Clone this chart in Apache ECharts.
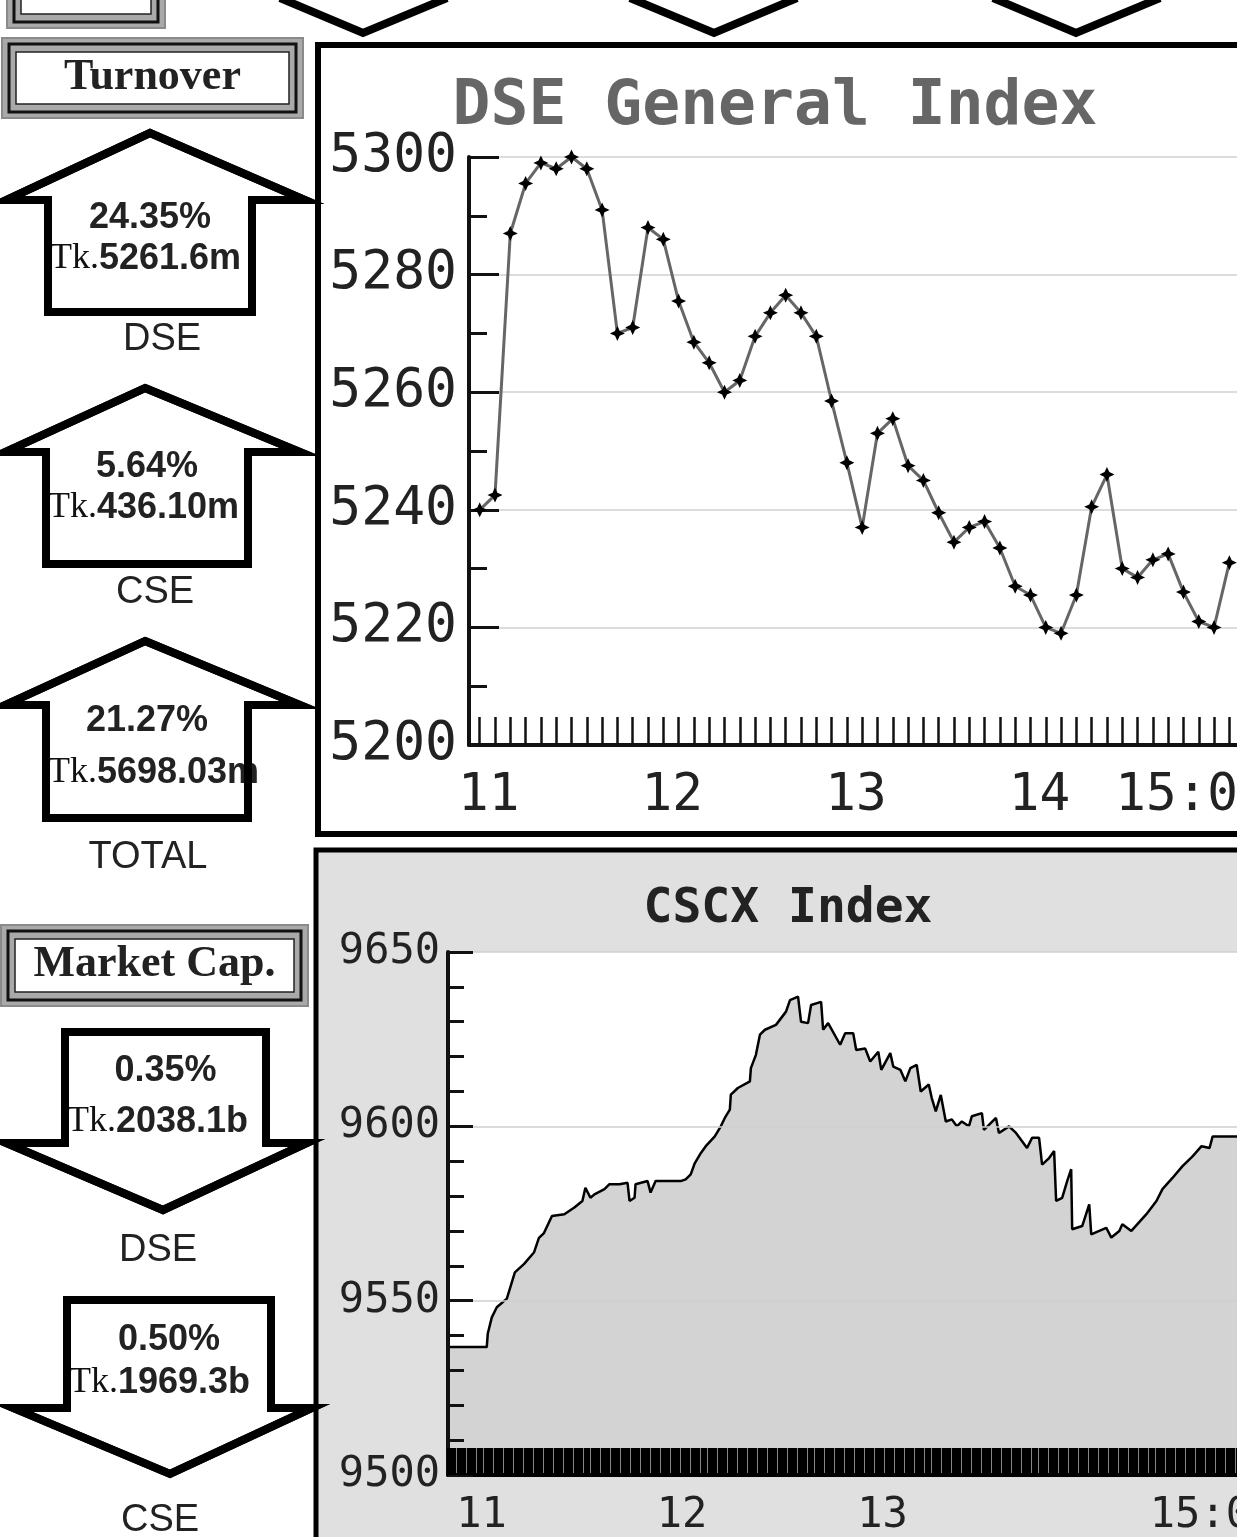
<!DOCTYPE html>
<html>
<head>
<meta charset="utf-8">
<script src="https://cdn.jsdelivr.net/npm/echarts@6/dist/echarts.min.js"></script>
<style>
html,body{margin:0;padding:0;background:#fff;}
#main{width:1237px;height:1537px;}
</style>
</head>
<body>
<div id="main"></div>
<script>
var chart = echarts.init(document.getElementById('main'));

// DSE General Index, minutes after 11:00
var dseMinutes = [0,5,10,15,20,25,30,35,40,45,50,55,60,65,70,75,80,85,90,95,100,105,110,115,120,125,130,135,140,145,150,155,160,165,170,175,180,185,190,195,200,205,210,215,220,225,230,235,240,245];
var dseValues  = [5240,5242.5,5287,5295.5,5299,5298,5300,5298,5291,5270,5271,5288,5286,5275.5,5268.5,5265,5260,5262,5269.5,5273.5,5276.5,5273.5,5269.5,5258.5,5248,5237,5253,5255.5,5247.5,5245,5239.5,5234.5,5237,5238,5233.5,5227,5225.5,5220,5219,5225.5,5240.5,5246,5230,5228.5,5231.5,5232.5,5226,5221,5220,5231];
var dseLabelValues = [0,60,120,180,247.5];
var dseLabels = ['11','12','13','14','15:00'];

// CSCX Index, minutes after 11:00
var cscxMinutes = [-10,1.6,1.9,3.1,4.6,7.6,10,12.7,15.7,17.2,18.7,21.1,24.8,27.8,30.2,31.1,32.6,33.8,36.8,38.3,41.3,43.7,44.3,45.8,46.1,49.7,50.6,52.1,55.7,59.6,61.1,62.6,63.8,65.6,67.1,69.8,71.6,72.8,74.3,74.6,76.7,80.3,80.6,82.1,83.3,84.8,88.1,91.1,92.3,94.7,95.6,97.7,98.6,101.6,102.2,103.7,107.3,108.8,111.2,112.1,114.8,116.3,118.7,119.6,122.3,123.2,125.3,126.8,128.3,130.2,131.4,133.8,134.7,135.9,137.4,138.9,140.7,142.2,143.7,145.8,146.7,149.7,150.3,153.9,154.8,157.8,159.9,163.2,164.7,166.8,167.7,169.8,171.3,171.9,173.7,175.2,176.4,176.7,179.7,181.8,182.4,184.8,186.9,188.4,190.8,191.7,194.4,198.9,201.9,203.7,206.7,209.7,212.7,215.4,217.8,218.7,226];
var cscxValues  = [9536.7,9536.7,9540.6,9545.2,9548.1,9550.6,9558.1,9560.5,9563.8,9568,9569.4,9574.3,9574.8,9576.7,9578.6,9582.4,9579.5,9580.5,9582,9583.4,9583.4,9583.8,9578.6,9579.5,9583.4,9584.3,9581,9584.3,9584.3,9584.3,9584.8,9586.2,9589.4,9592.3,9594.3,9597.1,9600,9602.4,9604.8,9609.1,9611,9612.9,9616.7,9620.5,9626.3,9627.7,9629.1,9632.9,9636.2,9637.2,9630,9629.6,9634.8,9635.7,9627.7,9629.6,9623.4,9626.7,9626.7,9621.9,9622.3,9618.6,9621.4,9616.2,9621,9617.1,9616.2,9612.9,9616.7,9617.6,9610,9612,9608.1,9604.3,9609,9601.4,9602,9600,9601.4,9600,9602.9,9603.8,9599,9602.4,9598.1,9600,9598.1,9593.8,9596.7,9596.7,9589,9590.9,9592.9,9578.6,9579.5,9584.3,9587.7,9570.5,9571.4,9577.6,9569,9570,9570.9,9568.1,9570,9571.9,9570,9574.8,9578.6,9582,9585.2,9588.6,9591.4,9594.3,9593.8,9597.1,9597.1];
var cscxLabelValues = [0,60,120,226];
var cscxLabels = ['11','12','13','15:00'];

// left panel figures
var turnoverPct  = ['24.35%','5.64%','21.27%'];
var turnoverTk   = ['5261.6m','436.10m','5698.03m'];
var turnoverName = ['DSE','CSE','TOTAL'];
var mcapPct  = ['0.35%','0.50%'];
var mcapTk   = ['2038.1b','1969.3b'];
var mcapName = ['DSE','CSE'];

var dseTicks = [];
for (var t = 0; t <= 245; t += 5) dseTicks.push(t);

function zip(a, b) {
    var out = [];
    for (var i = 0; i < a.length; i++) out.push([a[i], b[i]]);
    return out;
}

var mono = 'DejaVu Sans Mono';
var els = [];

function txt(x, y, s, font, align, rich) {
    var st = {text: s, font: font, fill: '#222', textAlign: align || 'center', textVerticalAlign: 'middle',
              align: align || 'center', verticalAlign: 'middle'};
    if (rich) st.rich = rich;
    els.push({type: 'text', x: x, y: y, z: 20, style: st});
}

function box(x, y, w, h, label, labelY) {
    els.push({type: 'rect', z: 10, shape: {x: x, y: y, width: w, height: h}, style: {fill: '#a9a9a9', stroke: '#8a8a8a', lineWidth: 2}});
    els.push({type: 'rect', z: 11, shape: {x: x + 7, y: y + 6, width: w - 14, height: h - 12}, style: {fill: null, stroke: '#111', lineWidth: 3}});
    els.push({type: 'rect', z: 12, shape: {x: x + 14, y: y + 14, width: w - 28, height: h - 28}, style: {fill: '#fff', stroke: '#222', lineWidth: 1.5}});
    if (label) txt(x + w / 2, labelY, label, 'bold 44px "Liberation Serif"');
}

var tkRich = {
    a: {fontFamily: 'Liberation Serif', fontSize: 36, fontWeight: 'normal', fill: '#111'},
    b: {fontFamily: 'Liberation Sans', fontSize: 36, fontWeight: 'bold', fill: '#222'}
};

function arrow(points, pct, tk, name, L) {
    els.push({type: 'polygon', z: 15, shape: {points: points}, style: {fill: '#fff', stroke: '#000', lineWidth: 8, lineJoin: 'miter'}});
    txt((L.sl + L.sr) / 2, L.pctY, pct, 'bold 36px "Liberation Sans"');
    txt(L.sl + 2, L.tkY, '{a|Tk.}{b|' + tk + '}', '36px "Liberation Sans"', 'left', tkRich);
    els.push({type: 'polygon', z: 25, shape: {points: points}, style: {fill: null, stroke: '#000', lineWidth: 8, lineJoin: 'miter'}});
    txt(L.nameX, L.nameY, name, '38px "Liberation Sans"');
}

// chart frames
els.push({type: 'rect', z: -10, shape: {x: 318, y: 45, width: 940, height: 789}, style: {fill: '#fff', stroke: '#000', lineWidth: 6}});
els.push({type: 'rect', z: -10, shape: {x: 316, y: 850, width: 940, height: 720}, style: {fill: '#e0e0e0', stroke: '#000', lineWidth: 5}});

// top strip (cut-off row above)
box(7, -50, 158, 78);
[[280, 363, 447], [630, 714, 797], [993, 1076, 1160]].forEach(function (v) {
    els.push({type: 'polyline', z: 10, shape: {points: [[v[0], -2], [v[1], 33], [v[2], -2]]}, style: {stroke: '#000', lineWidth: 8, fill: null}});
});

// turnover
box(2, 38, 301, 80, 'Turnover', 78);
var upLayout = [
    {cx: 150, top: 133, wing: 200, bot: 312, wl: 6, wr: 305, sl: 48, sr: 252, pctY: 218, tkY: 259, nameX: 162, nameY: 340},
    {cx: 145, top: 388, wing: 452, bot: 564, wl: 5, wr: 300, sl: 46, sr: 248, pctY: 467, tkY: 508, nameX: 155, nameY: 593},
    {cx: 145, top: 641, wing: 705, bot: 818, wl: 5, wr: 300, sl: 46, sr: 248, pctY: 721, tkY: 773, nameX: 148, nameY: 858}
];
upLayout.forEach(function (L, i) {
    var pts = [[L.cx, L.top], [L.wr, L.wing], [L.sr, L.wing], [L.sr, L.bot], [L.sl, L.bot], [L.sl, L.wing], [L.wl, L.wing]];
    arrow(pts, turnoverPct[i], turnoverTk[i], turnoverName[i], L);
});

// market cap
box(1, 925, 307, 81, 'Market Cap.', 965);
var downLayout = [
    {cx: 163, top: 1032, wing: 1143, tip: 1210, wl: 6, wr: 307, sl: 65, sr: 266, pctY: 1071, tkY: 1122, nameX: 158, nameY: 1251},
    {cx: 170, top: 1300, wing: 1408, tip: 1474, wl: 13, wr: 312, sl: 67, sr: 271, pctY: 1340, tkY: 1383, nameX: 160, nameY: 1521}
];
downLayout.forEach(function (L, i) {
    var pts = [[L.sl, L.top], [L.sr, L.top], [L.sr, L.wing], [L.wr, L.wing], [L.cx, L.tip], [L.wl, L.wing], [L.sl, L.wing]];
    arrow(pts, mcapPct[i], mcapTk[i], mcapName[i], L);
});

function labelFmt(values, labels) {
    return function (v) {
        var i = values.indexOf(v);
        if (i < 0) return '';
        return (i === labels.length - 1 ? '{e|' : '{h|') + labels[i] + '}';
    };
}
function plain(v) { return String(v); }

var option = {
    animation: false,
    backgroundColor: '#fff',
    title: [
        {text: 'DSE General Index', left: 770, top: 71, textAlign: 'center',
         textStyle: {fontFamily: mono, fontSize: 63, fontWeight: 'bold', color: '#666'}},
        {text: 'CSCX Index', left: 783, top: 881, textAlign: 'center',
         textStyle: {fontFamily: mono, fontSize: 48, fontWeight: 'bold', color: '#222'}}
    ],
    grid: [
        {left: 469, right: 0, top: 157, bottom: 792, containLabel: false, outerBoundsMode: 'none'},
        {left: 448, right: 0, top: 952, bottom: 62, containLabel: false, outerBoundsMode: 'none',
         show: true, backgroundColor: '#fff', borderWidth: 0}
    ],
    xAxis: [
        {gridIndex: 0, type: 'value', min: -3.5, max: 247.5,
         axisLine: {show: true, onZero: false, lineStyle: {color: '#111', width: 4}},
         axisTick: {show: true, inside: true, length: 28, customValues: dseTicks, lineStyle: {color: '#111', width: 2.5}},
         axisLabel: {customValues: dseLabelValues, margin: 26, formatter: labelFmt(dseLabelValues, dseLabels),
                     fontFamily: mono, fontSize: 51, color: '#222',
                     rich: {h: {fontFamily: mono, fontSize: 51, color: '#222', padding: [0, 0, 0, 18]},
                            e: {fontFamily: mono, fontSize: 51, color: '#222', padding: [0, 90, 0, 0]}}},
         splitLine: {show: false}},
        {gridIndex: 1, type: 'value', min: -10, max: 226, interval: 10, z: 5,
         axisLine: {show: true, onZero: false, lineStyle: {color: '#000', width: 4}},
         axisTick: {show: true, inside: true, length: 27, lineStyle: {color: '#000', width: 3.4}},
         minorTick: {show: true, splitNumber: 10, length: 27, lineStyle: {color: '#000', width: 3.4}},
         axisLabel: {customValues: cscxLabelValues, margin: 20, formatter: labelFmt(cscxLabelValues, cscxLabels),
                     fontFamily: mono, fontSize: 42, color: '#222',
                     rich: {h: {fontFamily: mono, fontSize: 42, color: '#222'},
                            e: {fontFamily: mono, fontSize: 42, color: '#222', padding: [0, 48, 0, 0]}}},
         splitLine: {show: false}}
    ],
    yAxis: [
        {gridIndex: 0, type: 'value', min: 5200, max: 5300, interval: 20,
         axisLine: {show: true, onZero: false, lineStyle: {color: '#111', width: 4}},
         axisTick: {show: true, inside: true, length: 30, lineStyle: {color: '#111', width: 3}},
         minorTick: {show: true, splitNumber: 2, length: 18, lineStyle: {color: '#111', width: 3}},
         axisLabel: {margin: 12, fontFamily: mono, fontSize: 53, color: '#222', formatter: plain},
         splitLine: {show: true, lineStyle: {color: '#dcdcdc', width: 2}}},
        {gridIndex: 1, type: 'value', min: 9500, max: 9650, interval: 50, z: 5,
         axisLine: {show: true, onZero: false, lineStyle: {color: '#111', width: 4}},
         axisTick: {show: true, inside: true, length: 25, lineStyle: {color: '#111', width: 3}},
         minorTick: {show: true, splitNumber: 5, length: 16, lineStyle: {color: '#111', width: 3}},
         axisLabel: {margin: 8, fontFamily: mono, fontSize: 42, color: '#222', formatter: plain},
         splitLine: {show: true, lineStyle: {color: '#cfcfcf', width: 1.5}}}
    ],
    series: [
        {name: 'DSE General Index', type: 'line', xAxisIndex: 0, yAxisIndex: 0,
         data: zip(dseMinutes, dseValues),
         symbol: 'path://M5,0 L6.6,3.4 L10,5 L6.6,6.6 L5,10 L3.4,6.6 L0,5 L3.4,3.4 Z',
         symbolSize: 15, showAllSymbol: true,
         itemStyle: {color: '#000'},
         lineStyle: {color: '#666', width: 3}},
        {name: 'CSCX Index', type: 'line', xAxisIndex: 1, yAxisIndex: 1,
         data: zip(cscxMinutes, cscxValues),
         showSymbol: false,
         lineStyle: {color: '#000', width: 2.5},
         areaStyle: {color: '#d3d3d3', opacity: 1, origin: 'start'}}
    ],
    graphic: {elements: els}
};

chart.setOption(option);
</script>
</body>
</html>
